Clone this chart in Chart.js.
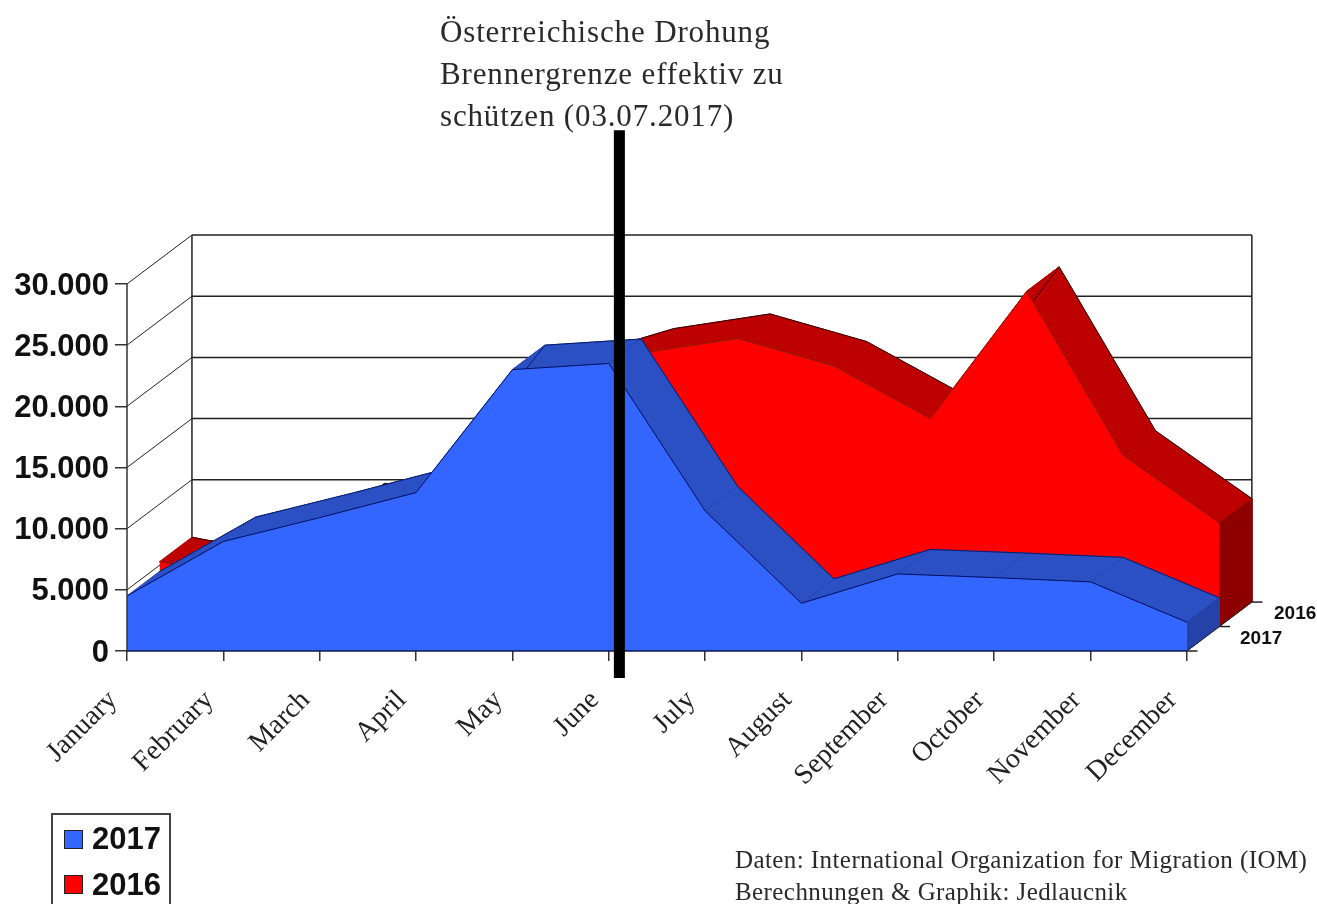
<!DOCTYPE html>
<html lang="de">
<head>
<meta charset="utf-8">
<title>Ankünfte 2016 / 2017</title>
<style>
  html, body { margin: 0; background: #fff; overflow: hidden; }
  #wrap { position: relative; width: 1317px; height: 904px; overflow: hidden; }
  canvas { display: block; }
  .note { position: absolute; font-family: "Liberation Serif", serif; color: #2a2a2a; white-space: nowrap; }
  .depth { position: absolute; font: bold 19px "Liberation Sans", sans-serif; color: #111; }
  #legend { position: absolute; left: 51px; top: 813px; width: 116px; height: 110px; border: 2px solid #444; }
  #legend i { position: absolute; left: 11px; width: 17px; height: 17px; border: 1px solid #222; }
  #legend span { position: absolute; left: 39px; font: bold 31px/36px "Liberation Sans", sans-serif; color: #111; }
</style>
</head>
<body>
<div id="wrap">
  <canvas id="chart" width="1317" height="904"></canvas>

  <div class="note" style="left:440px;top:11px;font-size:31px;line-height:42px;letter-spacing:.85px">Österreichische Drohung<br>Brennergrenze effektiv zu<br>schützen (03.07.2017)</div>
  <div class="note" style="left:735px;top:844px;font-size:25px;line-height:32px;letter-spacing:.42px">Daten: International Organization for Migration (IOM)<br>Berechnungen &amp; Graphik: Jedlaucnik</div>

  <div class="depth" style="left:1274px;top:602px">2016</div>
  <div class="depth" style="left:1240px;top:627px">2017</div>

  <div id="legend">
    <i style="top:15px;background:#3366ff"></i><span style="top:6px">2017</span>
    <i style="top:60px;background:#ff0000"></i><span style="top:52px">2016</span>
  </div>
</div>

<script src="https://cdn.jsdelivr.net/npm/chart.js@4/dist/chart.umd.js"></script>
<script>
const months = ['January', 'February', 'March', 'April', 'May', 'June', 'July',
  'August', 'September', 'October', 'November', 'December'];
const arrivals2017 = [4500, 8950, 10900, 12950, 23000, 23500, 11450, 3900, 6300, 6000, 5650, 2350];
const arrivals2016 = [5300, 3800, 9700, 9150, 20000, 22350, 23550, 21300, 17000, 27400, 14000, 8450];
const yTicks = [0, 5000, 10000, 15000, 20000, 25000, 30000];

// Marker for 3 July 2017, in month units on the x axis
const markerMonth = 5.11;

// Oblique projection: one series of depth shifts a point by this much in data units
const DEPTH_X = 0.337;
const DEPTH_Y = 2000;

// Axis ranges so that the plot fills the whole canvas
const X_MAX = 12.35;
const Y_MAX = 53212;

function project(month, value, depth) {
  return { x: month + depth * DEPTH_X, y: value + depth * DEPTH_Y };
}

const layers = [];

function addLine(points, color, width) {
  layers.push({
    data: points,
    borderColor: color,
    borderWidth: width,
    backgroundColor: 'transparent',
    fill: false,
    pointRadius: 0,
    tension: 0,
    clip: false,
  });
}

function addShape(points, fillColor, edgeColor) {
  layers.push({
    data: points.concat([points[0]]),
    borderColor: edgeColor,
    borderWidth: 1,
    backgroundColor: fillColor,
    fill: 'shape',
    pointRadius: 0,
    tension: 0,
  });
}

// Back wall, side wall and the frame around them
function addWalls() {
  const last = months.length - 1;
  yTicks.forEach((tick) => {
    addLine([project(0, tick, 0), project(0, tick, 2)], '#222', 1);
    addLine([project(0, tick, 2), project(last, tick, 2)], '#222', 1.5);
  });
  addLine([project(0, 0, 2), project(0, 30000, 2)], '#222', 1.5);
  addLine([project(last, 0, 2), project(last, 30000, 2)], '#222', 1.5);
}

// One 3D area: top strips, end cap, rear edge, front face
function addSeries(values, depth, colors) {
  const last = values.length - 1;
  for (let i = 0; i < last; i++) {
    addShape([
      project(i, values[i], depth),
      project(i + 1, values[i + 1], depth),
      project(i + 1, values[i + 1], depth + 1),
      project(i, values[i], depth + 1),
    ], colors.top, colors.seam);
  }
  addShape([
    project(last, 0, depth),
    project(last, values[last], depth),
    project(last, values[last], depth + 1),
    project(last, 0, depth + 1),
  ], colors.side, colors.side);
  addLine(values.map((v, i) => project(i, v, depth + 1)), colors.rear, 1);
  layers.push({
    data: values.map((v, i) => project(i, v, depth)),
    borderColor: colors.edge,
    borderWidth: 1,
    backgroundColor: colors.face,
    fill: { value: depth * DEPTH_Y },
    pointRadius: 0,
    tension: 0,
  });
}

addWalls();
addSeries(arrivals2016, 1, {
  face: '#ff0000', top: '#bd0000', side: '#8c0000',
  seam: '#ad0000', rear: '#300000', edge: '#8a1a00',
});
addSeries(arrivals2017, 0, {
  face: '#3366ff', top: '#2a50c4', side: '#2442a8',
  seam: '#2648b8', rear: '#0a1a66', edge: '#000f66',
});

// Front axis lines and the small depth ticks on the right
const lastMonth = months.length - 1;
addLine([project(0, 0, 0), project(lastMonth, 0, 0)], '#111a55', 1.5);
addLine([project(0, 0, 0), project(0, 30000, 0)], '#333', 1.5);
addLine([project(lastMonth, 0, 0), project(lastMonth, 0, 2)], '#222', 1);
[0, 1, 2].forEach((depth) => {
  const start = project(lastMonth, 0, depth);
  addLine([start, { x: start.x + 0.11, y: start.y }], '#222', 1.5);
});

// Heavy vertical marker
addLine([{ x: markerMonth, y: -2200 }, { x: markerMonth, y: 42560 }], '#000', 11);

layers.forEach((layer, i) => {
  layer.order = layers.length - i;
});

function fixedAxis(size, prop) {
  return (scale) => {
    scale[prop] = size;
    scale.paddingLeft = scale.paddingRight = scale.paddingTop = scale.paddingBottom = 0;
  };
}

new Chart(document.getElementById('chart'), {
  type: 'line',
  data: { datasets: layers },
  options: {
    responsive: false,
    animation: false,
    events: [],
    layout: { padding: 0 },
    plugins: { legend: { display: false }, tooltip: { enabled: false } },
    scales: {
      x: {
        type: 'linear',
        min: 0,
        max: X_MAX,
        border: { display: false },
        grid: { drawOnChartArea: false, drawTicks: true, tickLength: 10, color: '#333', lineWidth: 1.5 },
        afterBuildTicks: (scale) => {
          scale.ticks = months.map((m, i) => ({ value: i }));
        },
        afterFit: fixedAxis(253, 'height'),
        ticks: {
          autoSkip: false,
          includeBounds: false,
          minRotation: 45,
          maxRotation: 45,
          padding: 23,
          labelOffset: -14,
          color: '#222',
          font: { family: '"Liberation Serif", serif', size: 28 },
          callback: (value) => months[value],
        },
      },
      y: {
        min: 0,
        max: Y_MAX,
        border: { display: false },
        grid: { drawOnChartArea: false, drawTicks: true, tickLength: 12, color: '#333', lineWidth: 1.5 },
        afterBuildTicks: (scale) => {
          scale.ticks = yTicks.map((v) => ({ value: v }));
        },
        afterFit: fixedAxis(127, 'width'),
        ticks: {
          padding: 6,
          labelOffset: 2,
          color: '#111',
          font: { family: '"Liberation Sans", sans-serif', size: 31, weight: 'bold' },
          callback: (value) => value === 0 ? '0' : (value / 1000).toFixed(3),
        },
      },
    },
  },
});
</script>
</body>
</html>
